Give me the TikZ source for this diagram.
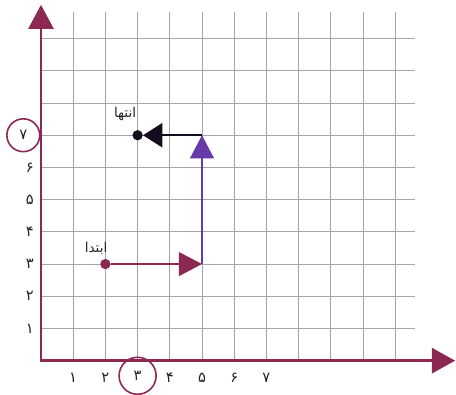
\documentclass[tikz,border=0pt]{standalone}
\usepackage{fontspec}
\newfontfamily\arabicfont[Script=Arabic]{DejaVu Sans}
\TeXXeTstate=1
\usetikzlibrary{arrows.meta}
\definecolor{cAxis}{RGB}{140,40,82}
\definecolor{cUp}{RGB}{102,58,168}
\definecolor{cBack}{RGB}{22,12,32}
\definecolor{cGrid}{RGB}{165,165,165}
\definecolor{cNum}{RGB}{35,35,35}

\begin{document}
\begin{tikzpicture}[
  font=\arabicfont\fontsize{11}{13}\selectfont,
  gridline/.style={cGrid, line width=0.8pt},
  axis/.style={cAxis, line width=2.4pt, line join=miter,
    {Triangle[length=0.75cm, width=0.78cm]}-{Triangle[length=0.72cm, width=0.78cm]}},
  num/.style={text=cNum, inner sep=1pt, font=\arabicfont\fontsize{13}{15}\selectfont},
  pick/.style={circle, draw=cAxis, line width=1.4pt, inner sep=0pt,
    minimum size=#1, text=cNum, font=\arabicfont\fontsize{13}{15}\selectfont},
  dot/.style={circle, fill=#1, inner sep=0pt, minimum size=0.32cm},
  move/.style={line width=1.6pt, draw=#1,
    -{Triangle[length=0.72cm, width=0.74cm]}},
  word/.style={text=black!85, inner sep=0pt, font=\arabicfont\fontsize{12}{14}\selectfont},
]
\useasboundingbox (-1.273,-1.065) rectangle (12.888,11.2);

% Grid
\foreach \i in {1,...,11}
  \draw[gridline] (\i,0) -- (\i,10.83);
\foreach \j in {1,...,10}
  \draw[gridline] (0,\j) -- (11.61,\j);

% Axes
\coordinate (O) at (0,0);
\coordinate (xend) at (12.86,0);
\coordinate (yend) at (0,11.05);
\draw[axis] (yend) -- (O) -- (xend);

% Axis numbers
\foreach \k/\d in {1/۱,2/۲,4/۴,5/۵,6/۶,7/۷}
  \node[num] (x\k) at (\k,-0.54) {\d};
\foreach \k/\d in {1/۱,2/۲,3/۳,4/۴,5/۵,6/۶}
  \node[num, anchor=east] (y\k) at (-0.18,\k) {\d};
\node[pick=1.15cm] (x3) at (3,-0.47) {۳};
\node[pick=1.02cm] (y7) at (-0.55,7) {۷};

% Moves
\node[dot=cAxis] (start) at (2,3) {};
\coordinate (turnA) at (5,3);
\coordinate (turnB) at (5,7);
\node[dot=cBack] (end) at (3,7) {};
\draw[move=cAxis] (start) -- (turnA);
\draw[move=cUp] (turnA) -- (turnB);
\draw[move=cBack, -{Triangle[length=0.6cm, width=0.75cm]}] (turnB) -- (end);

% Labels
\node[word] (startlbl) at (1.71,3.5) {\beginR ابتدا\endR};
\node[word] (endlbl) at (2.61,7.66) {\beginR انتها\endR};

\end{tikzpicture}
\end{document}
